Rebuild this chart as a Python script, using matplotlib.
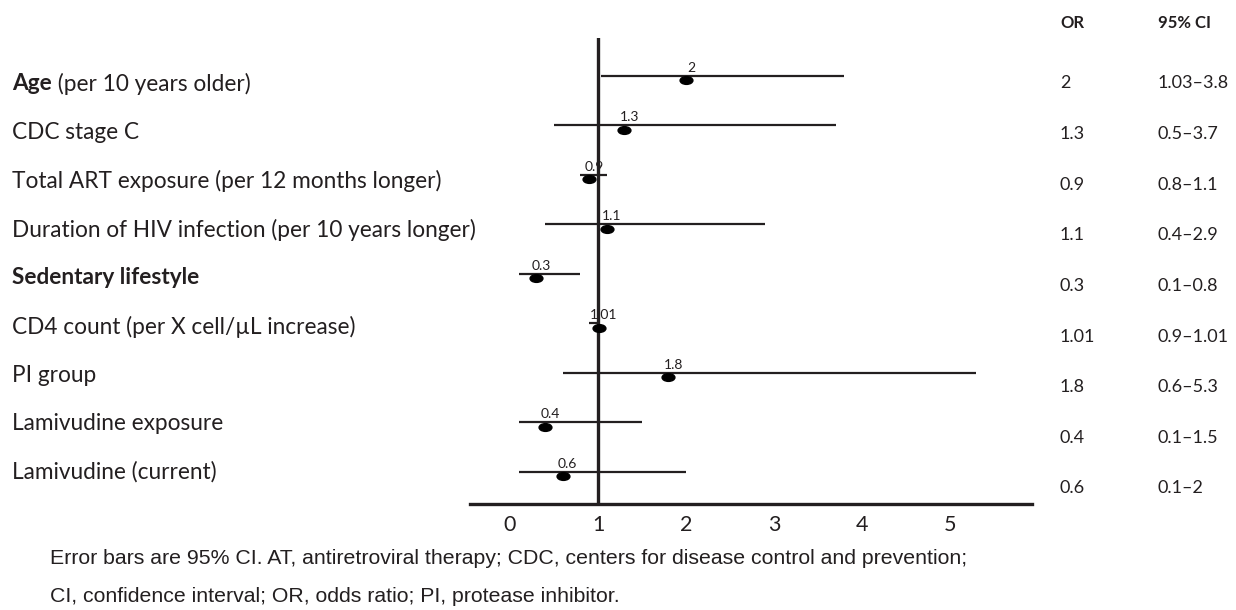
import matplotlib
matplotlib.use("Agg")
import matplotlib.pyplot as plt
from matplotlib.markers import MarkerStyle
from matplotlib.transforms import Affine2D, offset_copy

# ---------------- data ----------------
row_bold = ["Age", "", "", "", "Sedentary lifestyle", "", "", "", ""]
row_rest = [" (per 10 years older)", "CDC stage C",
            "Total ART exposure (per 12 months longer)",
            "Duration of HIV infection (per 10 years longer)", "",
            "CD4 count (per X cell/\u00b5L increase)", "PI group",
            "Lamivudine exposure", "Lamivudine (current)"]
or_vals = [2, 1.3, 0.9, 1.1, 0.3, 1.01, 1.8, 0.4, 0.6]
ci_low = [1.03, 0.5, 0.8, 0.4, 0.1, 0.9, 0.6, 0.1, 0.1]
ci_high = [3.8, 3.7, 1.1, 2.9, 0.8, 1.01, 5.3, 1.5, 2]
or_text = ["2", "1.3", "0.9", "1.1", "0.3", "1.01", "1.8", "0.4", "0.6"]
ci_text = ["1.03\u20133.8", "0.5\u20133.7", "0.8\u20131.1", "0.4\u20132.9",
           "0.1\u20130.8", "0.9\u20131.01", "0.6\u20135.3", "0.1\u20131.5", "0.1\u20132"]
x_ticks = [0, 1, 2, 3, 4, 5]
col_headers = ["OR", "95% CI"]
footnote = ["Error bars are 95% CI. AT, antiretroviral therapy; CDC, centers for disease control and prevention;",
            "CI, confidence interval; OR, odds ratio; PI, protease inhibitor."]

# ---------------- layout ----------------
W, H = 1236, 610
INK = "#231f20"
LAB_FONT = "Lato"
fig = plt.figure(figsize=(W / 100, H / 100), dpi=100)
renderer = fig.canvas.get_renderer()

left_px, right_px, top_px, bot_px = 470, 1032, 38, 504
ax = fig.add_axes([left_px / W, 1 - bot_px / H, (right_px - left_px) / W, (bot_px - top_px) / H])
ax.set_xlim((470 - 510) / 88, (1032 - 510) / 88)
n = len(or_vals)
spacing_px = 49.5
first_px = 75.7
ax.set_ylim((bot_px - first_px) / spacing_px, -(first_px - top_px) / spacing_px)

for s in ["left", "top", "right"]:
    ax.spines[s].set_visible(False)
ax.spines["bottom"].set_linewidth(2.4)
ax.spines["bottom"].set_color(INK)
ax.set_yticks([])
ax.set_xticks(x_ticks)
ax.set_xticklabels([str(t) for t in x_ticks], fontfamily=LAB_FONT, fontsize=15.5, color=INK)
ax.tick_params(axis="x", length=0, pad=8)

ax.axvline(1, color=INK, lw=2.4, ymin=0, ymax=1)

ell = MarkerStyle("o", transform=Affine2D().scale(1.65, 1.0))
dot_off = 4.5 / spacing_px
lab_tr = offset_copy(ax.transData, fig=fig, x=5, y=2, units="dots")
for i in range(n):
    ax.hlines(i, ci_low[i], ci_high[i], color=INK, lw=1.6)
    ax.plot(or_vals[i], i + dot_off, marker=ell, ms=5.6, color="black", ls="none")
    ax.text(or_vals[i], i, or_text[i], transform=lab_tr, ha="center", va="bottom",
            fontsize=10, fontfamily=LAB_FONT, color=INK)

# left labels
LFS = 16.3
for i in range(n):
    yfig = 1 - (82 + i * 48.5) / H
    x0 = 12 / W
    if row_bold[i]:
        t = fig.text(x0, yfig, row_bold[i], fontsize=LFS, fontweight="bold",
                     fontfamily=LAB_FONT, color=INK, va="center_baseline")
        bb = t.get_window_extent(renderer=renderer)
        x0 = bb.x1 / W
    if row_rest[i]:
        fig.text(x0, yfig, row_rest[i], fontsize=LFS, fontfamily=LAB_FONT,
                 color=INK, va="center_baseline")

# right table
col_x = [1060, 1158]
for j, h in enumerate(col_headers):
    fig.text(col_x[j] / W, 1 - 22 / H, h, fontsize=12, fontweight="bold",
             fontfamily=LAB_FONT, color=INK, va="center_baseline")
for i in range(n):
    yfig = 1 - (82 + i * 50.6) / H
    fig.text(col_x[0] / W, yfig, or_text[i], fontsize=13, fontfamily=LAB_FONT, color=INK,
             va="center_baseline")
    fig.text(col_x[1] / W, yfig, ci_text[i], fontsize=13, fontfamily=LAB_FONT, color=INK,
             va="center_baseline")

# footnote
for k, line in enumerate(footnote):
    fig.text(50 / W, 1 - [557, 595][k] / H, line, fontsize=15.3,
             fontfamily="Liberation Sans", color=INK, va="center_baseline")

fig.savefig("out.png", dpi=100)
